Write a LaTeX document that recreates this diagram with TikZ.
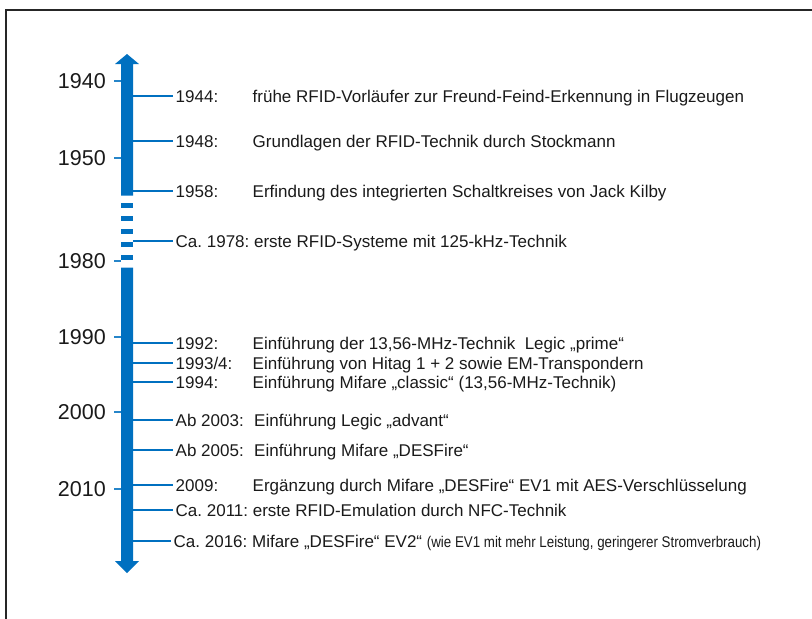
\documentclass[tikz,border=0pt]{standalone}
\usepackage{fontspec}
\setmainfont{Liberation Sans}
\newfontfamily\narrowfont[FakeStretch=0.86]{Liberation Sans}
\usetikzlibrary{positioning,calc}
\definecolor{blu}{HTML}{0070C0}
\definecolor{txt}{HTML}{1A1A1A}
\frenchspacing
\tikzset{
  frame/.style={line width=2pt, black!85},
  bar/.style={fill=blu, draw=none},
  tick/.style={blu!85, line width=1.3pt},
  branch/.style={blu, line width=2pt},
  yr/.style={anchor=east, inner xsep=8pt, inner ysep=0pt, txt, font=\fontsize{21.5}{21.5}\selectfont},
  ev/.style={anchor=base west, inner xsep=2.5pt, inner ysep=0pt, txt, font=\fontsize{17}{17}\selectfont},
  desc/.style={anchor=base west, inner sep=0pt, txt, font=\fontsize{17}{17}\selectfont},
}

\begin{document}
\begin{tikzpicture}[x=1pt,y=-1pt]
 \useasboundingbox (0,0) rectangle (812,619);
 \draw[frame] (6,640) |- (840,9.5);

 % time axis, broken between 1958 and 1980
 \fill[bar] (127,54) -- (139,64) -- (133,64) -- (133,195.7) -- (121,195.7) -- (121,64) -- (115,64) -- cycle;
 \foreach \y in {202.7,215.7,228.7,241.7,254.7}
   \fill[bar] (121,\y) rectangle (133,\y+5.7);
 \fill[bar] (121,267.7) -- (133,267.7) -- (133,561) -- (139,561) -- (127,573) -- (115,561) -- (121,561) -- cycle;

 % decades
 \foreach \yr/\y in {1940/81,1950/158,1980/261,1990/337,2000/412,2010/489} {
   \node[yr] (y\yr) at (114,\y) {\yr};
   \coordinate (a\yr) at (121,\y);
   \draw[tick] (y\yr.east) -- (a\yr);
 }

 % events
 \coordinate (b1) at (133,96);
 \node[ev] (e1) at (173,102.1) {1944:};
 \node[desc] (d1) at (252.5,102.1) {frühe RFID-Vorläufer zur Freund-Feind-Erkennung in Flugzeugen};
 \draw[branch] (b1) -- (b1 -| e1.west);

 \coordinate (b2) at (133,141);
 \node[ev] (e2) at (173,147.1) {1948:};
 \node[desc] (d2) at (252.5,147.1) {Grundlagen der RFID-Technik durch Stockmann};
 \draw[branch] (b2) -- (b2 -| e2.west);

 \coordinate (b3) at (133,191);
 \node[ev] (e3) at (173,197.1) {1958:};
 \node[desc] (d3) at (252.5,197.1) {Erfindung des integrierten Schaltkreises von Jack Kilby};
 \draw[branch] (b3) -- (b3 -| e3.west);

 \coordinate (b4) at (133,241);
 \node[ev] (e4) at (173,247.1) {Ca. 1978: erste RFID-Systeme mit 125-kHz-Technik};
 \draw[branch] (b4) -- (b4 -| e4.west);

 \coordinate (b5) at (133,343);
 \node[ev] (e5) at (173,349.1) {1992:};
 \node[desc] (d5) at (252.5,349.1) {Einführung der 13,56-MHz-Technik\ \ Legic „prime“};
 \draw[branch] (b5) -- (b5 -| e5.west);

 \coordinate (b6) at (133,363);
 \node[ev] (e6) at (173,369.1) {1993/4:};
 \node[desc] (d6) at (252.5,369.1) {Einführung von Hitag 1 + 2 sowie EM-Transpondern};
 \draw[branch] (b6) -- (b6 -| e6.west);

 \coordinate (b7) at (133,382);
 \node[ev] (e7) at (173,388.1) {1994:};
 \node[desc] (d7) at (252.5,388.1) {Einführung Mifare „classic“ (13,56-MHz-Technik)};
 \draw[branch] (b7) -- (b7 -| e7.west);

 \coordinate (b8) at (133,420);
 \node[ev] (e8) at (173,426.1) {Ab 2003:};
 \node[desc] (d8) at (254,426.1) {Einführung Legic „advant“};
 \draw[branch] (b8) -- (b8 -| e8.west);

 \coordinate (b9) at (133,450);
 \node[ev] (e9) at (173,456.1) {Ab 2005:};
 \node[desc] (d9) at (254,456.1) {Einführung Mifare „DESFire“};
 \draw[branch] (b9) -- (b9 -| e9.west);

 \coordinate (b10) at (133,485);
 \node[ev] (e10) at (173,491.1) {2009:};
 \node[desc] (d10) at (252.5,491.1) {Ergänzung durch Mifare „DESFire“ EV1 mit AES-Verschlüsselung};
 \draw[branch] (b10) -- (b10 -| e10.west);

 \coordinate (b11) at (133,510);
 \node[ev] (e11) at (173,516.1) {Ca. 2011: erste RFID-Emulation durch NFC-Technik};
 \draw[branch] (b11) -- (b11 -| e11.west);

 \coordinate (b12) at (133,541);
 \node[ev] (e12) at (171,547.1) {Ca. 2016: Mifare „DESFire“ EV2“ {\narrowfont\fontsize{15.5}{15.5}\selectfont (wie EV1 mit mehr Leistung, geringerer Stromverbrauch)}};
 \draw[branch] (b12) -- (b12 -| e12.west);
\end{tikzpicture}
\end{document}
